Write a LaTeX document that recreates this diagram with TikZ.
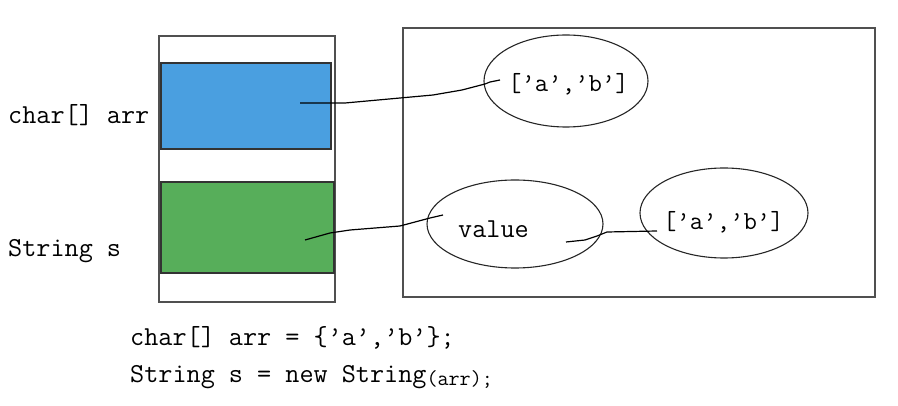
\documentclass[tikz,border=0pt]{standalone}
\usepackage{fontspec}
\usetikzlibrary{shapes.geometric}
\definecolor{cellblue}{HTML}{4A9FE0}
\definecolor{cellgreen}{HTML}{57AE5A}
\definecolor{frame}{HTML}{505050}
\begin{document}
\begin{tikzpicture}[x=1pt,y=-1pt,
  lbl/.style={font=\ttfamily\fontsize{27.4}{27.4}\selectfont, inner sep=0pt},
  olbl/.style={font=\ttfamily\fontsize{26}{26}\selectfont, inner sep=0pt},
  oval/.style={draw=black!85, line width=1.1pt, ellipse, inner sep=0pt},
  wire/.style={draw=black, line width=1.2pt, line join=round}
]
\useasboundingbox (0,0) rectangle (898,406);
% stack frame
\node[draw=frame, line width=1.4pt, minimum width=176pt, minimum height=266pt, inner sep=0pt] (stack) at (247,169) {};
\node[draw=black!80, fill=cellblue, line width=1.4pt, minimum width=170pt, minimum height=86pt, inner sep=0pt] (arrcell) at (246,106) {};
\node[draw=black!80, fill=cellgreen, line width=1.4pt, minimum width=173pt, minimum height=91pt, inner sep=0pt] (scell) at (247.5,227.5) {};
\node[lbl, anchor=base west] (arrlbl) at (8,124) {char[] arr};
\node[lbl, anchor=base west] (slbl) at (8,257) {String s};
% heap
\node[draw=frame, line width=1.4pt, minimum width=472pt, minimum height=269pt, inner sep=0pt] (heap) at (639,162.5) {};
\node[oval, minimum width=164pt, minimum height=92pt] (e1) at (566,81) {};
\node[oval, minimum width=176pt, minimum height=88pt] (e2) at (515,224) {};
\node[oval, minimum width=168pt, minimum height=90pt] (e3) at (724,213) {};
\node[olbl, anchor=base west] (t1) at (508,92) {[’a’,’b’]};
\node[lbl, anchor=base west] (t2) at (458,238) {value};
\node[olbl, anchor=base west] (t3) at (663,230) {[’a’,’b’]};
% connectors
\coordinate (a0) at (300,103);
\coordinate (a1) at (500,80);
\draw[wire] (a0) -- (345,103) -- (400,98) -- (433,95) -- (462,90) -- (485,84) -- (490,82) -- (a1);
\coordinate (b0) at (305,240);
\coordinate (b1) at (443,215);
\draw[wire] (b0) -- (330,233) -- (350,230) -- (400,226) -- (430,218) -- (b1);
\coordinate (c0) at (566,242);
\coordinate (c1) at (657,231);
\draw[wire] (c0) -- (585,240) -- (597,236) -- (607,232) -- (c1);
% code
\node[lbl, anchor=base west] (code1) at (130,345) {char[] arr = \{’a’,’b’\};};
\node[lbl, anchor=base west] (code2) at (130,383) {String s = new String\raisebox{-3pt}{\fontsize{21.5}{21.5}\selectfont(arr);}};
\end{tikzpicture}
\end{document}
